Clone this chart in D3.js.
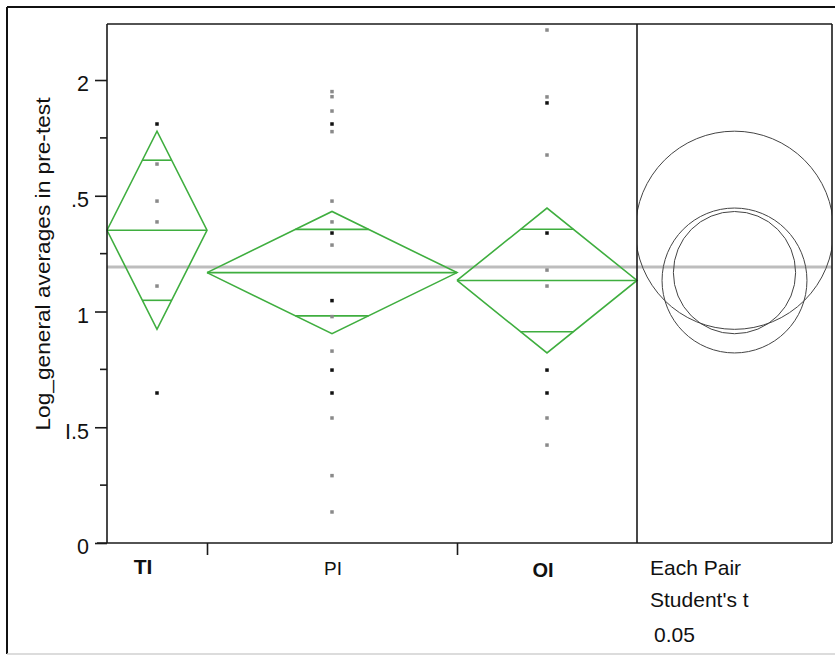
<!DOCTYPE html>
<html>
<head>
<meta charset="utf-8">
<script src="https://cdn.jsdelivr.net/npm/d3@7"></script>
<style>
  html, body { margin: 0; padding: 0; background: #fff; }
  svg { display: block; }
  text { font-family: "Liberation Sans", Arial, sans-serif; fill: #111; }
</style>
</head>
<body>
<svg id="chart" width="835" height="656"></svg>
<script>
// ---------------- DATA ----------------
const groups = ["TI", "PI", "OI"];
const groupSizes = [10, 25, 18];                 // widths of the x-axis groups (proportional to n)
const groupMeans = [1.351, 1.168, 1.134];
const groupCIHalf = [0.428, 0.264, 0.313];       // 95% CI half-widths (diamond half-heights)
const grandMean = 1.192;

const tiValues = [1.810, 1.637, 1.477, 1.387, 1.110, 0.648];
const tiDark   = [1, 0, 0, 0, 0, 1];
const piValues = [1.950, 1.928, 1.866, 1.810, 1.777, 1.477, 1.387, 1.339, 1.287, 1.047, 0.978, 0.829, 0.747, 0.648, 0.540, 0.291, 0.134];
const piDark   = [0, 0, 0, 1, 0, 0, 0, 1, 0, 1, 0, 0, 1, 1, 0, 0, 0];
const oiValues = [2.216, 1.927, 1.901, 1.676, 1.339, 1.179, 1.110, 0.747, 0.648, 0.540, 0.423];
const oiDark   = [0, 0, 1, 0, 1, 0, 0, 1, 1, 0, 0];

const yTickValues = [0, 0.5, 1, 1.5, 2];
const yTickLabels = ["0", "I.5", "1", ".5", "2"];
const yMinorTicks = [0.25, 0.75, 1.25, 1.75];
const yTitle = "Log_general averages in pre-test";
const compareLines = ["Each Pair", "Student's t", "0.05"];

// ---------------- LAYOUT ----------------
const svg = d3.select("#chart");
const plotLeft = 107, plotTop = 24, plotBottom = 543, dividerX = 637, panelRight = 832;
const green = "#3fae3f";

const y = d3.scaleLinear().domain([0, 2.242]).range([plotBottom, plotTop]);

// x: cumulative group widths
const cum = [0];
groupSizes.forEach((n, i) => cum.push(cum[i] + n));
const x = d3.scaleLinear().domain([0, cum[cum.length - 1]]).range([plotLeft, dividerX]);

// outer frame
svg.append("line").attr("x1", 7).attr("x2", 7).attr("y1", 7).attr("y2", 654).attr("stroke", "#111").attr("stroke-width", 2);
svg.append("line").attr("x1", 7).attr("x2", 835).attr("y1", 7).attr("y2", 7).attr("stroke", "#111").attr("stroke-width", 2);
svg.append("line").attr("x1", 7).attr("x2", 835).attr("y1", 654).attr("y2", 654).attr("stroke", "#d0d0d0").attr("stroke-width", 1.5);

// clip for comparison panel
svg.append("defs").append("clipPath").attr("id", "panelClip")
  .append("rect").attr("x", dividerX).attr("y", plotTop)
  .attr("width", panelRight - dividerX).attr("height", plotBottom - plotTop);

// grand mean line (behind)
svg.append("line")
  .attr("x1", plotLeft).attr("x2", panelRight)
  .attr("y1", y(grandMean)).attr("y2", y(grandMean))
  .attr("stroke", "#bdbdbd").attr("stroke-width", 3);

// diamonds
const dg = svg.append("g").attr("fill", "none").attr("stroke", green).attr("stroke-width", 1.6);
groups.forEach((g, i) => {
  const x0 = x(cum[i]), x1 = x(cum[i + 1]), xc = (x0 + x1) / 2;
  const m = groupMeans[i], h = groupCIHalf[i];
  dg.append("path").attr("d", d3.line()([[x0, y(m)], [xc, y(m + h)], [x1, y(m)], [xc, y(m - h)], [x0, y(m)]]));
  dg.append("line").attr("x1", x0).attr("x2", x1).attr("y1", y(m)).attr("y2", y(m));
  const o = h / Math.SQRT2;
  const frac = 1 - o / h;
  const hw = (x1 - x0) / 2 * frac;
  [m + o, m - o].forEach(v => {
    dg.append("line").attr("x1", xc - hw).attr("x2", xc + hw).attr("y1", y(v)).attr("y2", y(v));
  });
});

// points
const allPts = [[tiValues, tiDark], [piValues, piDark], [oiValues, oiDark]];
allPts.forEach(([vals, dark], i) => {
  const xc = (x(cum[i]) + x(cum[i + 1])) / 2;
  svg.append("g").selectAll("rect").data(vals).join("rect")
    .attr("x", xc - 1.75).attr("y", d => y(d) - 1.75)
    .attr("width", 3.5).attr("height", 3.5)
    .attr("fill", (d, j) => dark[j] ? "#111" : "#8a8a8a");
});

// comparison circles
const cx = (dividerX + panelRight) / 2;
const cg = svg.append("g").attr("clip-path", "url(#panelClip)")
  .attr("fill", "none").attr("stroke", "#444").attr("stroke-width", 1);
groups.forEach((g, i) => {
  cg.append("circle").attr("cx", cx).attr("cy", y(groupMeans[i]))
    .attr("r", y(0) - y(groupCIHalf[i]));
});

// frame lines
const fr = svg.append("g").attr("stroke", "#1a1a1a").attr("stroke-width", 1.6);
fr.append("line").attr("x1", plotLeft).attr("x2", panelRight).attr("y1", plotTop).attr("y2", plotTop);
fr.append("line").attr("x1", dividerX).attr("x2", dividerX).attr("y1", plotTop).attr("y2", plotBottom);
fr.append("line").attr("x1", panelRight).attr("x2", panelRight).attr("y1", plotTop).attr("y2", plotBottom);
fr.append("line").attr("x1", dividerX).attr("x2", panelRight).attr("y1", plotBottom).attr("y2", plotBottom);

// y axis
const yAxis = d3.axisLeft(y).tickValues(yTickValues).tickSize(12).tickPadding(6)
  .tickFormat((d, i) => yTickLabels[i]);
const yg = svg.append("g").attr("transform", `translate(${plotLeft},0)`).call(yAxis);
yg.select(".domain").attr("d", `M0,${plotTop}V${plotBottom}`).attr("stroke", "#1a1a1a").attr("stroke-width", 1.6);
yg.selectAll(".tick line").attr("stroke", "#1a1a1a").attr("stroke-width", 1.6);
yg.selectAll(".tick text").attr("font-size", 21.5).attr("dy", "0.5em")
  .style("font-family", '"Liberation Sans", Arial, sans-serif').attr("fill", "#111");
yg.selectAll(".minor").data(yMinorTicks).join("line").attr("class", "minor")
  .attr("x1", -7).attr("x2", 0).attr("y1", d => y(d)).attr("y2", d => y(d))
  .attr("stroke", "#1a1a1a").attr("stroke-width", 1.6);

// x axis
const xAxis = d3.axisBottom(x).tickValues(cum.slice(1, -1)).tickSize(12).tickFormat("");
const xg = svg.append("g").attr("transform", `translate(0,${plotBottom})`).call(xAxis);
xg.select(".domain").attr("d", `M${plotLeft - 10},0H${dividerX}`).attr("stroke", "#1a1a1a").attr("stroke-width", 1.6);
xg.selectAll(".tick line").attr("stroke", "#1a1a1a").attr("stroke-width", 1.6);

// category labels
const labelStyle = [
  { dx: -14, base: 574, size: 21, weight: "bold" },
  { dx: 1, base: 575, size: 19, weight: "normal" },
  { dx: -4, base: 577, size: 20, weight: "bold" }
];
groups.forEach((g, i) => {
  const xc = (x(cum[i]) + x(cum[i + 1])) / 2;
  const s = labelStyle[i];
  svg.append("text").attr("x", xc + s.dx).attr("y", s.base)
    .attr("text-anchor", "middle").attr("font-size", s.size).attr("font-weight", s.weight)
    .text(g);
});

// y title
svg.append("text")
  .attr("transform", `translate(50,264) rotate(-90)`)
  .attr("text-anchor", "middle").attr("font-size", 20)
  .attr("textLength", 333).attr("lengthAdjust", "spacingAndGlyphs")
  .text(yTitle);

// comparison text
const cmpPos = [[650, 575], [650, 607], [654, 642]];
compareLines.forEach((t, i) => {
  svg.append("text").attr("x", cmpPos[i][0]).attr("y", cmpPos[i][1])
    .attr("font-size", 21).text(t);
});
</script>
</body>
</html>
